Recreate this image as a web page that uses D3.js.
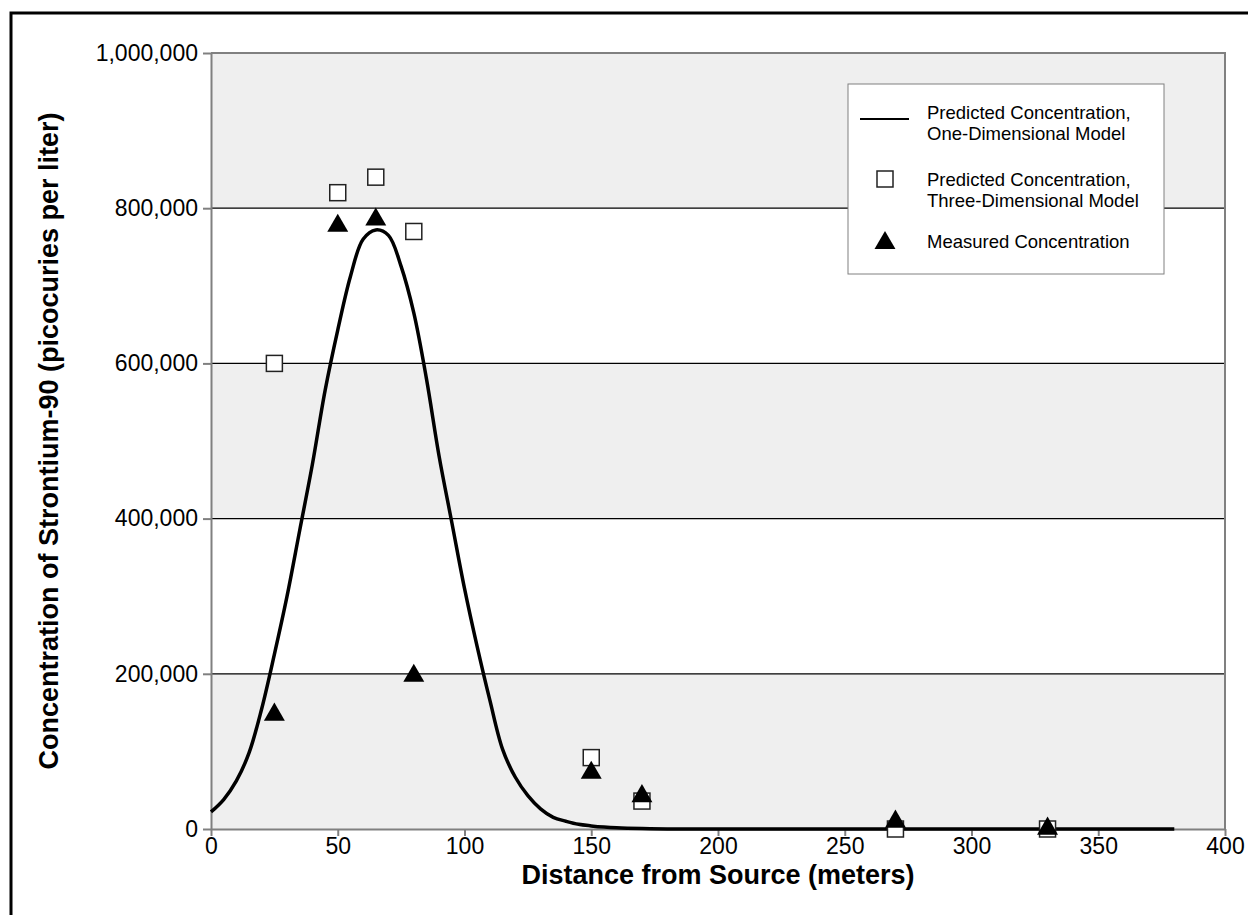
<!doctype html>
<html lang="en">
  <head>
    <meta charset="utf-8">
    <style>
    body { margin: 0; background: #fff; }
    svg text { font-family: Arial, "Liberation Sans", sans-serif; fill: #000; }
    .axis path, .axis line { stroke: #808080; stroke-width: 2px; }
    .axis text { font-size: 23px; }
    .curve { fill: none; stroke: #000; stroke-width: 3.5px; }
    </style>
    <title>Strontium-90 concentration</title>
  </head>
  <body>
    <div id="content"></div>

    <script src="https://d3js.org/d3.v7.min.js"></script>
    <script type="text/javascript">
    var w = 1248;
    var h = 915;
    var margin = {left: 211, right: 23, top: 53, bottom: 86};

    // one-dimensional model curve
    var curveX = [0, 5, 10, 15, 20, 25, 30, 35, 40, 45, 50, 55, 60, 65, 70, 75, 80, 85, 90, 95,
                  100, 105, 110, 115, 120, 125, 130, 135, 140, 145, 150, 155, 160, 170, 180,
                  200, 250, 300, 350, 380];
    var curveY = [22000, 38000, 62000, 98000, 155000, 225000, 300000, 385000, 470000, 565000,
                  643000, 712000, 760000, 772000, 765000, 725000, 665000, 580000, 480000, 395000,
                  310000, 235000, 166000, 103000, 67000, 43000, 26000, 15000, 10000, 6000,
                  4000, 2500, 1500, 500, 0,
                  0, 0, 0, 0, 0];

    // three-dimensional model (squares)
    var modelX = [25, 50, 65, 80, 150, 170, 270, 330];
    var modelY = [600000, 820000, 840000, 770000, 92000, 36000, 0, 0];

    // measured (triangles)
    var measX = [25, 50, 65, 80, 150, 170, 270, 330];
    var measY = [150000, 780000, 788000, 200000, 75000, 45000, 12000, 3000];

    var xTicks = [0, 50, 100, 150, 200, 250, 300, 350, 400];
    var yTicks = [0, 200000, 400000, 600000, 800000, 1000000];

    var legendLabels = [
      ['Predicted Concentration,', 'One-Dimensional Model'],
      ['Predicted Concentration,', 'Three-Dimensional Model'],
      ['Measured Concentration']
    ];

    var svg = d3.select('#content')
                .append('svg')
                .attr('width', w)
                .attr('height', h);

    // outer frame (only top and left edges show)
    svg.append('rect')
      .attr('x', 11).attr('y', 13)
      .attr('width', w + 20).attr('height', h + 20)
      .attr('fill', 'none')
      .attr('stroke', '#000')
      .attr('stroke-width', 3);

    var xScale = d3.scaleLinear()
                   .domain([0, 400])
                   .range([margin.left, w - margin.right]);

    var yScale = d3.scaleLinear()
                   .domain([0, 1000000])
                   .range([h - margin.bottom, margin.top]);

    // alternating bands
    var bands = d3.pairs(yTicks);
    svg.selectAll('.band')
      .data(bands)
      .enter()
      .append('rect')
      .attr('class', 'band')
      .attr('x', xScale(0))
      .attr('y', d => yScale(d[1]))
      .attr('width', xScale(400) - xScale(0))
      .attr('height', d => yScale(d[0]) - yScale(d[1]))
      .attr('fill', (d, i) => i % 2 === 0 ? '#efefef' : '#ffffff');

    // gridlines
    svg.selectAll('.grid')
      .data(yTicks.slice(1, -1))
      .enter()
      .append('line')
      .attr('x1', xScale(0))
      .attr('x2', xScale(400))
      .attr('y1', d => yScale(d))
      .attr('y2', d => yScale(d))
      .attr('stroke', '#000')
      .attr('stroke-width', 1.3);

    // top and right frame of plot
    svg.append('path')
      .attr('d', `M${xScale(0)},${yScale(1000000)}H${xScale(400)}V${yScale(0)}`)
      .attr('fill', 'none')
      .attr('stroke', '#808080')
      .attr('stroke-width', 2);

    var xAxis = d3.axisBottom(xScale)
                  .tickValues(xTicks)
                  .tickSize(7)
                  .tickSizeOuter(0)
                  .tickPadding(2);
    var yAxis = d3.axisLeft(yScale)
                  .tickValues(yTicks)
                  .tickFormat(d3.format(','))
                  .tickSize(8)
                  .tickSizeOuter(0)
                  .tickPadding(5);

    svg.append('g')
      .attr('class', 'axis x-axis')
      .attr('transform', `translate(0, ${yScale(0)})`)
      .call(xAxis);

    svg.append('g')
      .attr('class', 'axis y-axis')
      .attr('transform', `translate(${xScale(0)}, 0)`)
      .call(yAxis);

    svg.selectAll('.axis text').attr('fill', '#000');

    // curve
    var line = d3.line()
                 .x((d, i) => xScale(curveX[i]))
                 .y(d => yScale(d))
                 .curve(d3.curveCatmullRom.alpha(0.5));

    svg.append('path')
      .datum(curveY)
      .attr('class', 'curve')
      .attr('d', line);

    var sq = 16;
    var tri = d3.symbol().type(d3.symbolTriangle).size(190);

    svg.selectAll('.sq')
      .data(modelX)
      .enter()
      .append('rect')
      .attr('class', 'sq')
      .attr('x', d => xScale(d) - sq / 2)
      .attr('y', (d, i) => yScale(modelY[i]) - sq / 2)
      .attr('width', sq)
      .attr('height', sq)
      .attr('fill', '#fff')
      .attr('stroke', '#222')
      .attr('stroke-width', 1.5);

    svg.selectAll('.tri')
      .data(measX)
      .enter()
      .append('path')
      .attr('class', 'tri')
      .attr('d', tri)
      .attr('transform', (d, i) => `translate(${xScale(d)}, ${yScale(measY[i]) + 2})`)
      .attr('fill', '#000');

    // axis titles
    svg.append('text')
      .attr('x', (xScale(0) + xScale(400)) / 2)
      .attr('y', 884)
      .attr('text-anchor', 'middle')
      .style('font-size', '27px')
      .style('font-weight', 'bold')
      .text('Distance from Source (meters)');

    svg.append('text')
      .attr('transform', `translate(58, ${(yScale(0) + yScale(1000000)) / 2}) rotate(-90)`)
      .attr('text-anchor', 'middle')
      .style('font-size', '27px')
      .style('font-weight', 'bold')
      .text('Concentration of Strontium-90 (picocuries per liter)');

    // legend
    var lg = svg.append('g').attr('transform', 'translate(848, 84)');
    lg.append('rect')
      .attr('width', 316)
      .attr('height', 190)
      .attr('fill', '#fff')
      .attr('stroke', '#808080')
      .attr('stroke-width', 1);

    lg.append('line')
      .attr('x1', 12).attr('x2', 61)
      .attr('y1', 35).attr('y2', 35)
      .attr('stroke', '#000')
      .attr('stroke-width', 2);

    lg.append('rect')
      .attr('x', 29).attr('y', 87)
      .attr('width', sq).attr('height', sq)
      .attr('fill', '#fff')
      .attr('stroke', '#222')
      .attr('stroke-width', 1.5);

    lg.append('path')
      .attr('d', tri)
      .attr('transform', 'translate(37, 159)')
      .attr('fill', '#000');

    var legendY = [[29, 50], [96, 117], [158]];
    legendLabels.forEach((lines, i) => {
      lines.forEach((t, j) => {
        lg.append('text')
          .attr('x', 79)
          .attr('y', legendY[i][j])
          .attr('dy', '0.35em')
          .style('font-size', '18.5px')
          .text(t);
      });
    });
    </script>
  </body>
</html>
